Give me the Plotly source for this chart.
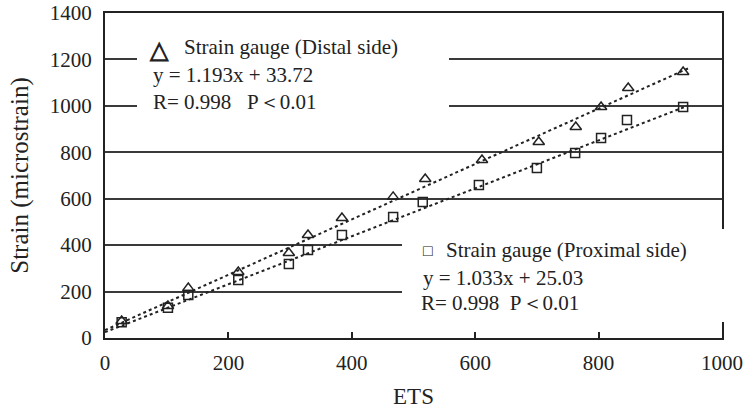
import plotly.graph_objects as go

# ---- data ----
distal_x = [27, 102, 135, 216, 298, 329, 384, 467, 519, 611, 703, 763, 804, 848, 937]
distal_y = [73, 138, 215, 284, 366, 444, 517, 608, 685, 767, 844, 909, 995, 1077, 1146]
prox_x = [27, 102, 135, 216, 298, 329, 384, 467, 515, 606, 700, 762, 804, 846, 937]
prox_y = [68, 130, 185, 250, 319, 379, 444, 521, 586, 659, 732, 797, 862, 939, 995]

# regression lines y = a*x + b
distal_fit = (1.193, 33.72)
prox_fit = (1.033, 25.03)
fit_x = [0, 945]

x_ticks = [0, 200, 400, 600, 800, 1000]
y_ticks = [0, 200, 400, 600, 800, 1000, 1200, 1400]

# ---- layout geometry (pixels) ----
W, H = 749, 409
L, R, T, B = 105, 722, 13, 338
def px(x):
    return (x - L) / (R - L)
def py(y):
    return (B - y) / (B - T)

INK = "#222222"
SERIF = "Liberation Serif, Times New Roman, serif"

fig = go.Figure()

for (a, b) in (distal_fit, prox_fit):
    fig.add_trace(go.Scatter(
        x=fit_x, y=[a * v + b for v in fit_x], mode="lines",
        line=dict(color=INK, width=2, dash="dot"), showlegend=False, hoverinfo="skip"))

fig.add_trace(go.Scatter(
    x=distal_x, y=distal_y, mode="markers", showlegend=False,
    marker=dict(symbol="triangle-up-open", size=10, color=INK, line=dict(width=1.5, color=INK))))
fig.add_trace(go.Scatter(
    x=prox_x, y=prox_y, mode="markers", showlegend=False,
    marker=dict(symbol="square-open", size=9, color=INK, line=dict(width=1.5, color=INK))))

# white boxes behind the equations (interrupt gridlines / frame)
for (x0, y0, x1, y1) in [(137, 28, 449, 134), (402, 229, 740, 322)]:
    fig.add_shape(type="rect", xref="paper", yref="paper", layer="above",
                  x0=px(x0), x1=px(x1), y0=py(y1), y1=py(y0),
                  fillcolor="white", line=dict(width=0))

def note(text, x, y, size=21, anchor="left"):
    fig.add_annotation(text=text, xref="paper", yref="paper", x=px(x), y=py(y),
                       xanchor=anchor, yanchor="middle", showarrow=False,
                       font=dict(family=SERIF, size=size, color=INK))

note("<b>△</b>", 159, 50, size=24, anchor="center")
note("Strain gauge (Distal side)", 182, 47)
note("y = 1.193x + 33.72", 151, 75)
note("R= 0.998   P＜0.01", 151, 102)

note("□", 428, 250, size=16, anchor="center")
note("Strain gauge (Proximal side)", 444, 250)
note("y = 1.033x + 25.03", 421, 278)
note("R= 0.998  P＜0.01", 419, 303)

fig.update_layout(
    width=W, height=H, plot_bgcolor="white", paper_bgcolor="white",
    margin=dict(l=L, r=W - R, t=T, b=H - B),
    font=dict(family=SERIF, color=INK),
    xaxis=dict(range=[0, 1000], tickvals=x_ticks, ticks="inside", ticklen=6,
               tickwidth=1.5, tickcolor=INK, showgrid=False, zeroline=False,
               showline=True, mirror=True, linecolor=INK, linewidth=2,
               tickfont=dict(size=21, family=SERIF, color=INK),
               ticklabelstandoff=5, automargin=False,
               title=dict(text="ETS", font=dict(size=23, family=SERIF, color=INK), standoff=20)),
    yaxis=dict(range=[0, 1400], tickvals=y_ticks, ticks="", showgrid=True,
               gridcolor="#3a3a3a", gridwidth=2, zeroline=False,
               showline=True, mirror=True, linecolor=INK, linewidth=2,
               tickfont=dict(size=21, family=SERIF, color=INK),
               ticklabelstandoff=7, automargin=False,
               title=dict(text="Strain (microstrain)", font=dict(size=25, family=SERIF, color=INK), standoff=14)),
)

fig.write_html("out.html")
